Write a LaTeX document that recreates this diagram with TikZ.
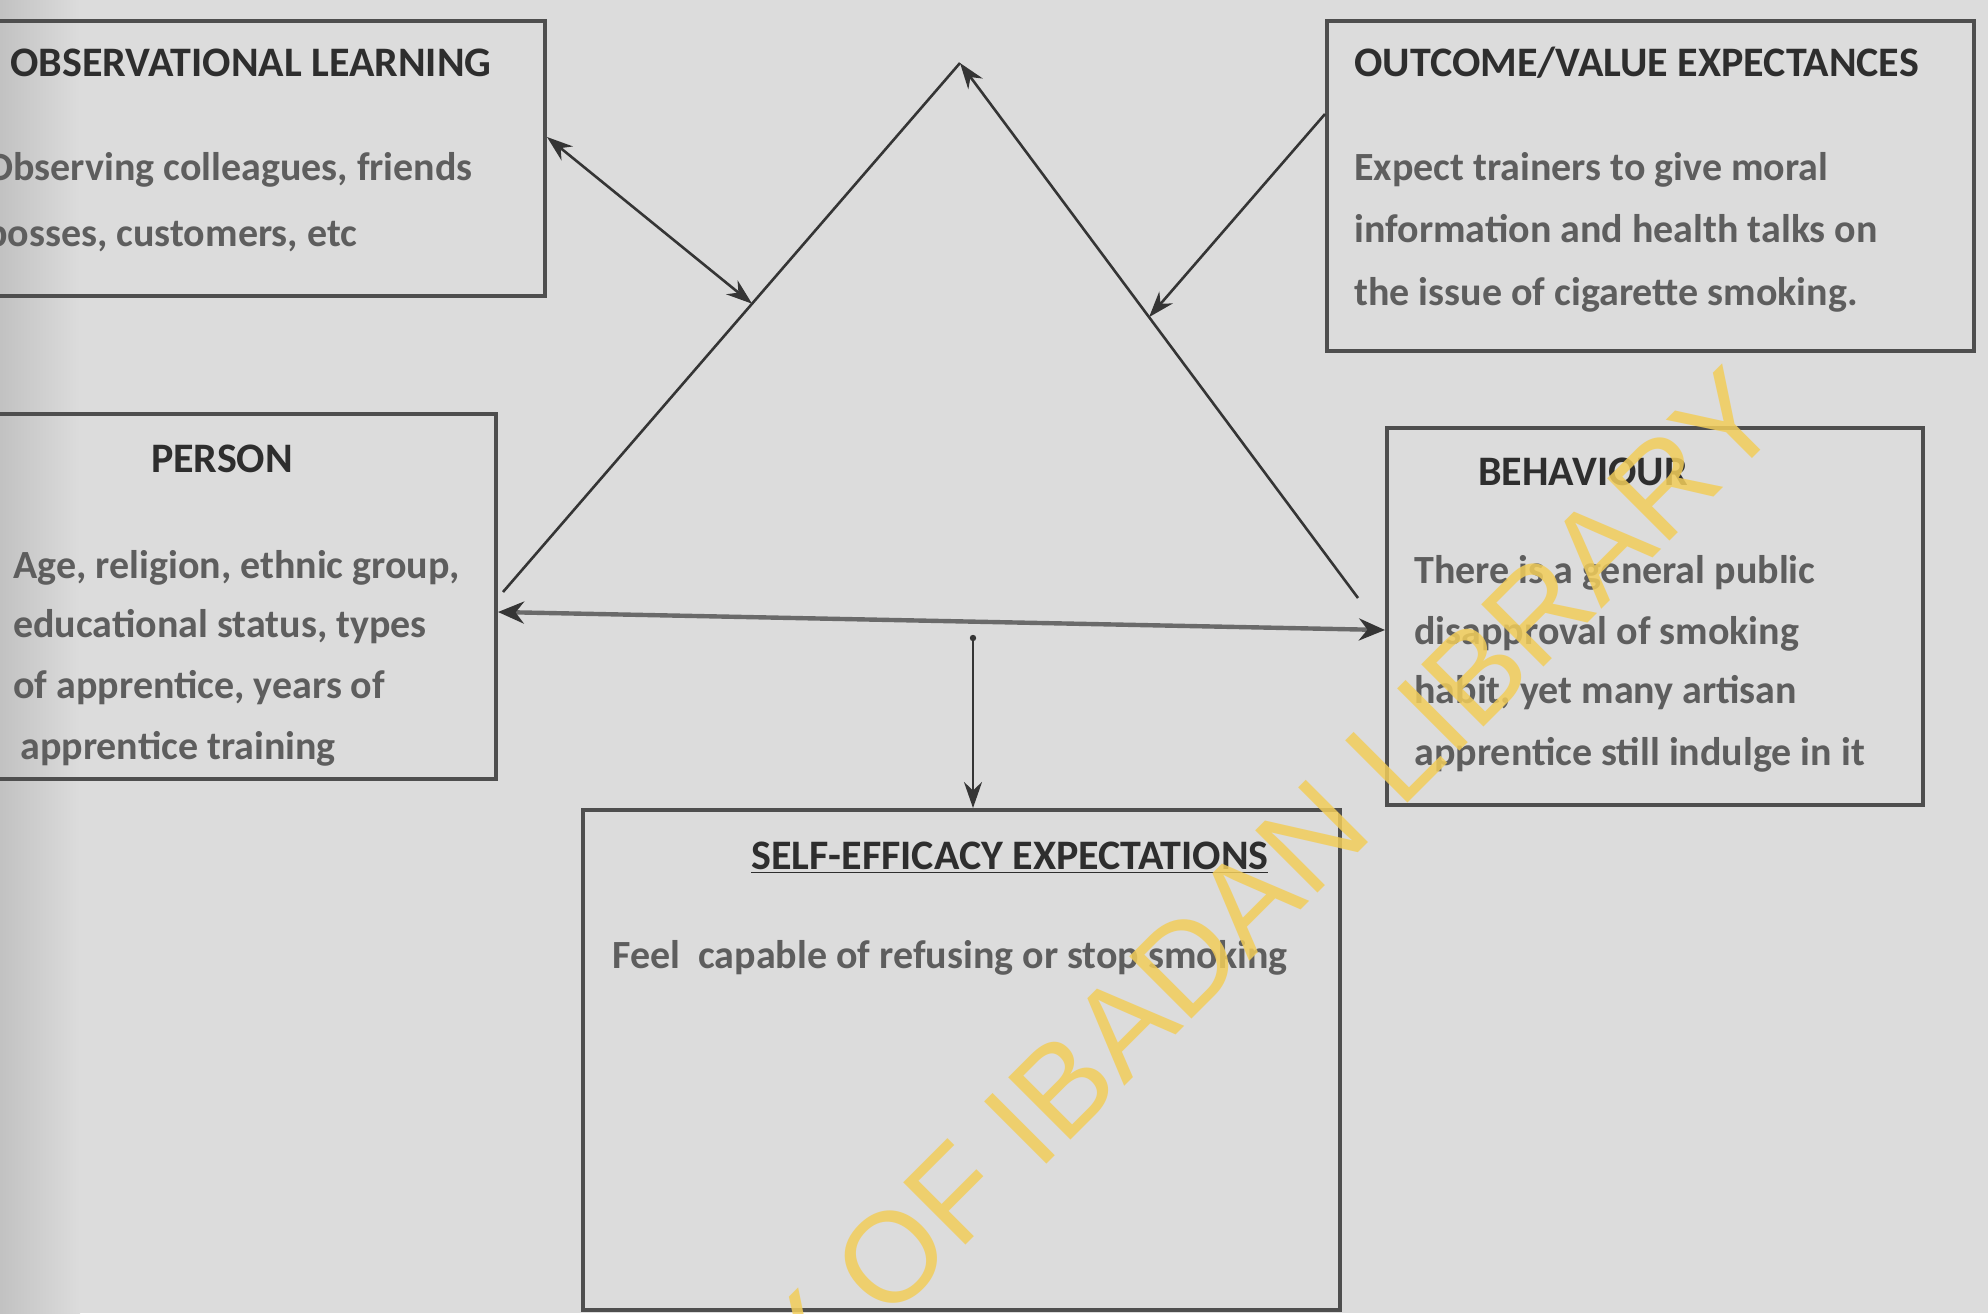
\documentclass[tikz,border=0pt]{standalone}
\usepackage{fontspec}
\setmainfont{Carlito}
\newfontfamily\wmfont{Liberation Sans}
\usetikzlibrary{arrows.meta,calc}
\definecolor{bgc}{HTML}{DCDCDC}
\definecolor{bordc}{HTML}{4E4E4E}
\definecolor{ttlc}{HTML}{2E2E2E}
\definecolor{bodyc}{HTML}{5E5E5E}
\definecolor{linec}{HTML}{353535}
\definecolor{basec}{HTML}{6A6A6A}
\definecolor{wmc}{RGB}{242,205,90}
\tikzset{mytip/.tip={Stealth[length=13pt,width=9pt]},
         basetip/.tip={Stealth[length=13pt,width=11pt,color=linec]}}
\begin{document}
\begin{tikzpicture}[x=0.5pt,y=-0.5pt,
  box/.style={draw=bordc, line width=2pt, rectangle, inner sep=0pt},
  ttl/.style={font=\fontsize{21}{24}\selectfont\bfseries, text=ttlc, inner sep=0pt, anchor=base west},
  bodytxt/.style={font=\fontsize{20}{24}\selectfont\bfseries, text=bodyc, inner sep=0pt, anchor=base west},
  ln/.style={draw=linec, line width=1.3pt},
  wm/.style={font=\wmfont\fontsize{64}{76}\selectfont, text=wmc, text opacity=0.85, inner sep=0pt}
]
\path[use as bounding box] (0,0) rectangle (1988,1313);
\fill[bgc] (0,0) rectangle (1988,1313);
\shade[left color=black!12!bgc, right color=bgc] (0,0) rectangle (80,1313);

% boxes
\node[box, minimum width=276.5pt, minimum height=137.5pt, anchor=north west] (obs) at (-10,19) {};
\node[box, minimum width=323.5pt, minimum height=165pt, anchor=north west] (out) at (1325,19) {};
\node[box, minimum width=252pt, minimum height=182.5pt, anchor=north west] (per) at (-10,412) {};
\node[box, minimum width=268pt, minimum height=188.5pt, anchor=north west] (beh) at (1385,426) {};
\node[box, minimum width=378.5pt, minimum height=250pt, anchor=north west] (self) at (581,808) {};

% texts
\node[ttl] (obsT) at (10,76) {OBSERVATIONAL LEARNING};
\node[bodytxt] (obs1) at (-14,180) {Observing colleagues, friends};
\node[bodytxt] (obs2) at (-14,246) {bosses, customers, etc};

\node[ttl] (outT) at (1354,76) {OUTCOME/VALUE EXPECTANCES};
\node[bodytxt] (out1) at (1354,180) {Expect trainers to give moral};
\node[bodytxt] (out2) at (1354,242) {information and health talks on};
\node[bodytxt] (out3) at (1354,305) {the issue of cigarette smoking.};

\node[ttl, anchor=base] (perT) at (222,472) {PERSON};
\node[bodytxt] (per1) at (13,578) {Age, religion, ethnic group,};
\node[bodytxt] (per2) at (13,637) {educational status, types};
\node[bodytxt] (per3) at (13,698) {of apprentice, years of};
\node[bodytxt] (per4) at (20,759) {apprentice training};

\node[ttl] (behT) at (1478,485) {BEHAVIOUR};
\node[bodytxt] (beh1) at (1414,583) {There is a general public};
\node[bodytxt] (beh2) at (1414,644) {disapproval of smoking};
\node[bodytxt] (beh3) at (1414,703) {habit, yet many artisan};
\node[bodytxt] (beh4) at (1414,765) {apprentice still indulge in it};

\node[ttl] (selfT) at (751,869) {\underline{SELF-EFFICACY EXPECTATIONS}};
\node[bodytxt] (self1) at (612,968) {Feel\ \ capable of refusing or stop smoking};

% triangle
\coordinate (A) at (960,63);
\coordinate (L) at (503,592);
\coordinate (R) at (1358,598);
\draw[ln] (L) -- (A);
\draw[ln, -{mytip}] (R) -- (A);

% observational <-> triangle
\coordinate (obsE) at ($(obs.north east)+(0,118)$);
\coordinate (obsP) at ($(L)!0.545!(A)$);
\draw[ln, {mytip}-{mytip}] (obsE) -- (obsP);

% outcome -> triangle
\coordinate (outW) at ($(out.north west)+(0,95)$);
\coordinate (outP) at ($(A)!0.475!(R)$);
\draw[ln, -{mytip}] (outW) -- (outP);

% base line person <-> behaviour
\coordinate (perE) at ($(per.north east)+(0,200)$);
\coordinate (behW) at ($(beh.north west)+(0,204)$);
\draw[draw=basec, line width=2.2pt, {basetip}-{basetip}] (perE) -- (behW);

% vertical arrow to self-efficacy
\coordinate (vtop) at (973,638);
\fill[linec] (vtop) circle (1.6pt);
\draw[ln, -{mytip}] (vtop) -- (vtop |- self.north);

% watermark
\node[wm, rotate=45, anchor=base] (wmark) at (1053,1158) {UNIVERSITY OF IBADAN LIBRARY};
\end{tikzpicture}
\end{document}
